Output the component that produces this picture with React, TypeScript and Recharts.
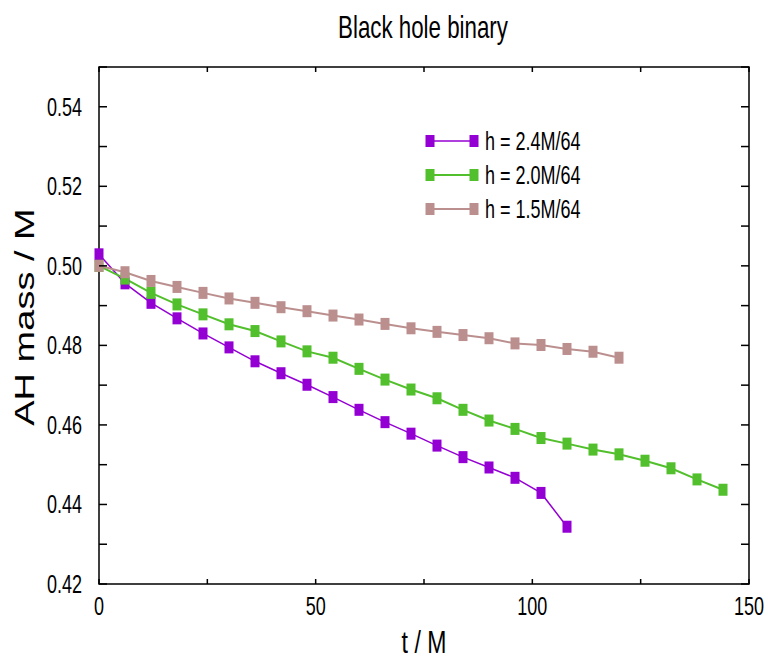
import React from "react";
import { LineChart, Line, XAxis, YAxis, Legend, ReferenceArea } from "recharts";

const TITLE = "Black hole binary";
const X_LABEL = "t / M";
const Y_LABEL = "AH mass / M";

const T = [0, 6, 12, 18, 24, 30, 36, 42, 48, 54, 60, 66, 72, 78, 84, 90, 96, 102, 108, 114, 120, 126, 132, 138, 144];

const H24 = [0.5029, 0.4956, 0.4907, 0.4868, 0.483, 0.4795, 0.476, 0.473, 0.4701, 0.467, 0.4638, 0.4607, 0.4578, 0.4548, 0.4519, 0.4493, 0.4467, 0.4429, 0.4344];
const H20 = [0.5, 0.4968, 0.4932, 0.4903, 0.4878, 0.4853, 0.4836, 0.481, 0.4785, 0.4769, 0.4741, 0.4714, 0.4689, 0.4667, 0.4638, 0.4611, 0.459, 0.4567, 0.4553, 0.4538, 0.4526, 0.451, 0.4491, 0.4463, 0.4437];
const H15 = [0.5, 0.4984, 0.4962, 0.4947, 0.4932, 0.4918, 0.4907, 0.4896, 0.4886, 0.4875, 0.4865, 0.4854, 0.4843, 0.4834, 0.4826, 0.4818, 0.4805, 0.4801, 0.4791, 0.4784, 0.4769];

const SERIES_NAMES = ["h = 2.4M/64", "h = 2.0M/64", "h = 1.5M/64"];
const SERIES_KEYS = ["h24", "h20", "h15"];
const SERIES_COLORS = ["#9400D3", "#52BF2C", "#BC8F8F"];
const SERIES_WIDTHS = [1.5, 2, 2];

const X_TICKS = [0, 25, 50, 75, 100, 125, 150];
const X_LABELED = [0, 50, 100, 150];
const Y_TICKS = [0.42, 0.43, 0.44, 0.45, 0.46, 0.47, 0.48, 0.49, 0.5, 0.51, 0.52, 0.53, 0.54, 0.55];
const Y_LABELED = ["0.42", "0.44", "0.46", "0.48", "0.50", "0.52", "0.54"];

const data = T.map((t, i) => ({
  t,
  h24: i < H24.length ? H24[i] : undefined,
  h20: i < H20.length ? H20[i] : undefined,
  h15: i < H15.length ? H15[i] : undefined,
}));

const W = 768;
const H = 659;
const PL = 99;
const PR = 749;
const PT = 67;
const PB = 584;
const SQ = 0.72;
const FONT = "'Liberation Sans', Arial, sans-serif";

const SqText = ({ x, y, size, anchor, children, rotate }: any) => (
  <text
    transform={`translate(${x},${y}) scale(${SQ},1)${rotate ? ` rotate(${rotate})` : ""}`}
    x={0}
    y={0}
    fontSize={size}
    fontFamily={FONT}
    textAnchor={anchor}
    fill="#000"
  >
    {children}
  </text>
);

const YTick = (props: any) => {
  const { y, payload } = props;
  const v = Number(payload.value);
  const lbl = Y_LABELED.find((s) => Math.abs(Number(s) - v) < 1e-6);
  return (
    <g>
      <line x1={PL} x2={PL + 8} y1={y} y2={y} stroke="#000" strokeWidth={1.5} />
      <line x1={PR - 8} x2={PR} y1={y} y2={y} stroke="#000" strokeWidth={1.5} />
      {lbl && (
        <SqText x={82} y={y + 9} size={25} anchor="end">
          {lbl}
        </SqText>
      )}
    </g>
  );
};

const XTick = (props: any) => {
  const { x, payload } = props;
  const v = Number(payload.value);
  const show = X_LABELED.includes(v);
  return (
    <g>
      <line x1={x} x2={x} y1={PB} y2={PB - 5} stroke="#000" strokeWidth={1.5} />
      <line x1={x} x2={x} y1={PT} y2={PT + 5} stroke="#000" strokeWidth={1.5} />
      {show && (
        <SqText x={x} y={615} size={25} anchor="middle">
          {String(v)}
        </SqText>
      )}
    </g>
  );
};

const SquareDot = (color: string) => (props: any) => {
  const { cx, cy, index } = props;
  if (cx == null || cy == null || isNaN(cy)) return <g key={index} />;
  return <rect key={index} x={cx - 4.5} y={cy - 6} width={9} height={12} fill={color} />;
};

const LegendContent = () => (
  <svg width={220} height={110} style={{ overflow: "visible" }}>
    {SERIES_NAMES.map((name, i) => {
      const yy = 16 + i * 34;
      return (
        <g key={name}>
          <line x1={10} x2={54} y1={yy} y2={yy} stroke={SERIES_COLORS[i]} strokeWidth={SERIES_WIDTHS[i]} />
          <rect x={5.5} y={yy - 6} width={9} height={12} fill={SERIES_COLORS[i]} />
          <rect x={49.5} y={yy - 6} width={9} height={12} fill={SERIES_COLORS[i]} />
          <SqText x={65} y={yy + 9} size={25} anchor="start">
            {name}
          </SqText>
        </g>
      );
    })}
  </svg>
);

export default function App() {
  return (
    <div style={{ position: "absolute", left: 0, top: 0, width: W, height: H, background: "#fff" }}>
      <LineChart width={W} height={H} data={data} margin={{ top: PT, right: W - PR, bottom: 0, left: 0 }}>
        <XAxis
          dataKey="t"
          type="number"
          domain={[0, 150]}
          ticks={X_TICKS}
          interval={0}
          height={H - PB}
          tickLine={false}
          axisLine={false}
          tick={<XTick />}
          label={{
            content: () => (
              <SqText x={424} y={653} size={32} anchor="middle">
                {X_LABEL}
              </SqText>
            ),
          }}
        />
        <YAxis
          type="number"
          domain={[0.42, 0.55]}
          ticks={Y_TICKS}
          interval={0}
          width={PL}
          tickLine={false}
          axisLine={false}
          tickSize={0}
          tick={<YTick />}
          allowDataOverflow
          label={{
            content: () => (
              <SqText x={34} y={317} size={38} anchor="middle" rotate={-90}>
                {Y_LABEL}
              </SqText>
            ),
          }}
        />
        <ReferenceArea x1={0} x2={150} y1={0.42} y2={0.55} fill="none" stroke="#000" strokeWidth={1.5} fillOpacity={0} ifOverflow="visible" />
        {SERIES_KEYS.map((k, i) => (
          <Line
            key={k}
            dataKey={k}
            name={SERIES_NAMES[i]}
            type="linear"
            stroke={SERIES_COLORS[i]}
            strokeWidth={SERIES_WIDTHS[i]}
            dot={SquareDot(SERIES_COLORS[i])}
            activeDot={false}
            isAnimationActive={false}
          />
        ))}
        <Legend
          layout="horizontal"
          verticalAlign="middle"
          align="center"
          content={<LegendContent />}
          wrapperStyle={{ position: "absolute", left: 420, top: 125, width: 220, height: 110 }}
        />
      </LineChart>
      <svg width={W} height={60} style={{ position: "absolute", left: 0, top: 0, pointerEvents: "none" }}>
        <SqText x={423} y={38} size={31} anchor="middle">
          {TITLE}
        </SqText>
      </svg>
    </div>
  );
}
